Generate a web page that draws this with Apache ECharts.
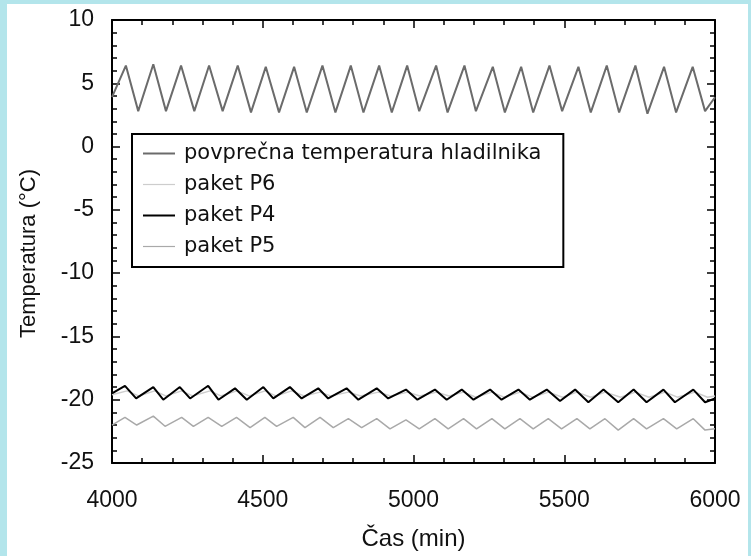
<!DOCTYPE html>
<html>
<head>
<meta charset="utf-8">
<script src="https://cdn.jsdelivr.net/npm/echarts@6/dist/echarts.min.js"></script>
<style>
  html, body { margin: 0; padding: 0; width: 751px; height: 556px; background: #b3e5eb; overflow: hidden; }
  #chart { position: absolute; left: 7px; top: 4px; width: 741px; height: 552px; background: #ffffff; }
</style>
</head>
<body>
<div id="chart"></div>
<script>
// Fridge temperature log, 4000–6000 min
const seriesNames = ['povprečna temperatura hladilnika', 'paket P6', 'paket P4', 'paket P5'];

// average fridge air temperature (°C)
const avgTime = [4000, 4046, 4087, 4137, 4179, 4229, 4273, 4322, 4367, 4417, 4461, 4510, 4554, 4604, 4646,
  4698, 4741, 4792, 4834, 4886, 4928, 4979, 5019, 5075, 5113, 5169, 5207, 5263, 5303, 5357, 5397,
  5451, 5493, 5547, 5588, 5641, 5682, 5736, 5776, 5831, 5871, 5926, 5967, 6000];
const avgTemp = [3.9, 6.4, 2.8, 6.5, 2.8, 6.4, 2.8, 6.4, 2.8, 6.4, 2.7, 6.3, 2.7, 6.3, 2.7,
  6.4, 2.7, 6.4, 2.7, 6.4, 2.7, 6.4, 2.8, 6.4, 2.7, 6.4, 2.8, 6.3, 2.7, 6.3, 2.7,
  6.4, 2.8, 6.3, 2.7, 6.4, 2.7, 6.4, 2.6, 6.3, 2.7, 6.3, 2.8, 3.9];

// package P6
const p6Time = [4000, 4050, 4088, 4142, 4178, 4231, 4267, 4325, 4361, 4414, 4455, 4508, 4543, 4596, 4637,
  4690, 4725, 4784, 4825, 4884, 4924, 4981, 5021, 5077, 5118, 5166, 5207, 5260, 5300, 5354, 5394,
  5448, 5494, 5542, 5588, 5636, 5687, 5736, 5781, 5835, 5875, 5934, 5975, 6000];
const p6Temp = [-19.6, -19.3, -19.7, -19.3, -19.7, -19.3, -19.7, -19.3, -19.7, -19.3, -19.7, -19.3, -19.7, -19.3, -19.7,
  -19.4, -19.7, -19.4, -19.7, -19.4, -19.7, -19.4, -19.7, -19.4, -19.7, -19.4, -19.8, -19.4, -19.8, -19.4, -19.8,
  -19.4, -19.8, -19.4, -19.8, -19.4, -19.8, -19.4, -19.8, -19.4, -19.8, -19.4, -19.8, -19.7];

// package P4
const p4Time = [4000, 4043, 4080, 4137, 4170, 4225, 4259, 4319, 4353, 4408, 4447, 4502, 4535, 4590, 4629,
  4684, 4717, 4778, 4817, 4878, 4916, 4975, 5013, 5071, 5110, 5160, 5199, 5254, 5292, 5348, 5386,
  5442, 5486, 5536, 5580, 5630, 5679, 5730, 5773, 5829, 5867, 5928, 5967, 6000];
const p4Temp = [-19.5, -18.9, -19.9, -19.0, -20.0, -19.0, -19.9, -18.9, -20.0, -19.1, -20.0, -19.0, -19.9, -19.0, -19.9,
  -19.1, -19.9, -19.1, -20.0, -19.1, -19.9, -19.2, -20.0, -19.2, -20.0, -19.2, -20.0, -19.2, -20.0, -19.2, -20.0,
  -19.2, -20.1, -19.2, -20.2, -19.2, -20.2, -19.2, -20.2, -19.2, -20.2, -19.2, -20.2, -19.9];

// package P5
const p5Time = [4000, 4043, 4082, 4137, 4176, 4231, 4270, 4319, 4364, 4413, 4458, 4507, 4546, 4601, 4640,
  4690, 4734, 4784, 4828, 4878, 4922, 4975, 5019, 5071, 5115, 5166, 5209, 5260, 5303, 5353, 5397,
  5447, 5491, 5542, 5585, 5635, 5679, 5730, 5773, 5829, 5873, 5928, 5967, 6000];
const p5Temp = [-22.0, -21.4, -22.0, -21.3, -22.1, -21.4, -22.1, -21.4, -22.1, -21.4, -22.2, -21.4, -22.1, -21.4, -22.2,
  -21.4, -22.2, -21.5, -22.2, -21.5, -22.3, -21.6, -22.3, -21.5, -22.3, -21.5, -22.3, -21.5, -22.3, -21.5, -22.3,
  -21.5, -22.3, -21.5, -22.3, -21.5, -22.4, -21.5, -22.3, -21.5, -22.3, -21.5, -22.4, -22.3];

const pairs = (t, v) => t.map((x, i) => [x, v[i]]);

// legend swatches: plain horizontal strokes (the moveTo corners fix the icon box to 32x14)
const thickLine = 'path://M0,0M32,14M0,6H32V8H0Z';
const thinLine = 'path://M0,0M32,14M0,6.4H32V7.6H0Z';

const labelFont = { fontFamily: 'Liberation Sans', fontSize: 23, color: '#111' };
const plain = v => String(v);
const frameLine = { show: true, onZero: false, lineStyle: { color: '#000', width: 2 } };
const majorTick = { show: true, inside: true, length: 8, lineStyle: { color: '#000', width: 1.5 } };
const minorTick = { show: true, splitNumber: 5, length: 5, lineStyle: { color: '#000', width: 1.5 } };

const chart = echarts.init(document.getElementById('chart'), null, { renderer: 'canvas' });
chart.setOption({
  animation: false,
  grid: { left: 105, top: 16, right: 33, bottom: 92, containLabel: false },
  legend: {
    orient: 'vertical',
    left: 125,
    top: 130,
    backgroundColor: '#fff',
    borderColor: '#000',
    borderWidth: 2,
    borderRadius: 0,
    padding: [9, 22, 10, 11],
    itemGap: 10,
    itemWidth: 32,
    itemHeight: 14,
    textStyle: { fontFamily: 'DejaVu Sans', fontSize: 21, color: '#111', padding: [0, 0, 0, 4] },
    data: [
      { name: seriesNames[0], icon: thickLine },
      { name: seriesNames[1], icon: thinLine },
      { name: seriesNames[2], icon: thickLine },
      { name: seriesNames[3], icon: thinLine }
    ]
  },
  xAxis: [
    {
      type: 'value', position: 'bottom', min: 4000, max: 6000, interval: 500,
      name: 'Čas (min)', nameLocation: 'middle', nameGap: 64,
      nameTextStyle: { fontFamily: 'Liberation Sans', fontSize: 24, color: '#111' },
      axisLine: frameLine, axisTick: majorTick, minorTick: minorTick,
      splitLine: { show: false },
      axisLabel: Object.assign({ margin: 26, formatter: plain }, labelFont)
    },
    {
      type: 'value', position: 'top', min: 4000, max: 6000, interval: 500,
      axisLine: frameLine, axisTick: majorTick, minorTick: minorTick,
      splitLine: { show: false }, axisLabel: { show: false }
    }
  ],
  yAxis: [
    {
      type: 'value', position: 'left', min: -25, max: 10, interval: 5,
      name: 'Temperatura (°C)', nameLocation: 'middle', nameGap: 72,
      nameTextStyle: { fontFamily: 'Liberation Sans', fontSize: 22, color: '#111', padding: [0, 24, 0, 0] },
      axisLine: frameLine, axisTick: majorTick, minorTick: minorTick,
      splitLine: { show: false },
      axisLabel: Object.assign({ margin: 18, formatter: plain }, labelFont)
    },
    {
      type: 'value', position: 'right', min: -25, max: 10, interval: 5,
      axisLine: frameLine, axisTick: majorTick, minorTick: minorTick,
      splitLine: { show: false }, axisLabel: { show: false }
    }
  ],
  series: [
    { name: seriesNames[0], type: 'line', symbol: 'none', data: pairs(avgTime, avgTemp),
      lineStyle: { color: '#6b6b6b', width: 2 }, itemStyle: { color: '#6b6b6b' } },
    { name: seriesNames[1], type: 'line', symbol: 'none', data: pairs(p6Time, p6Temp),
      lineStyle: { color: '#cdcdcd', width: 1.5 }, itemStyle: { color: '#cdcdcd' } },
    { name: seriesNames[2], type: 'line', symbol: 'none', data: pairs(p4Time, p4Temp),
      lineStyle: { color: '#000000', width: 2 }, itemStyle: { color: '#000000' } },
    { name: seriesNames[3], type: 'line', symbol: 'none', data: pairs(p5Time, p5Temp),
      lineStyle: { color: '#a9a9a9', width: 1.5 }, itemStyle: { color: '#a9a9a9' } }
  ]
});
</script>
</body>
</html>
